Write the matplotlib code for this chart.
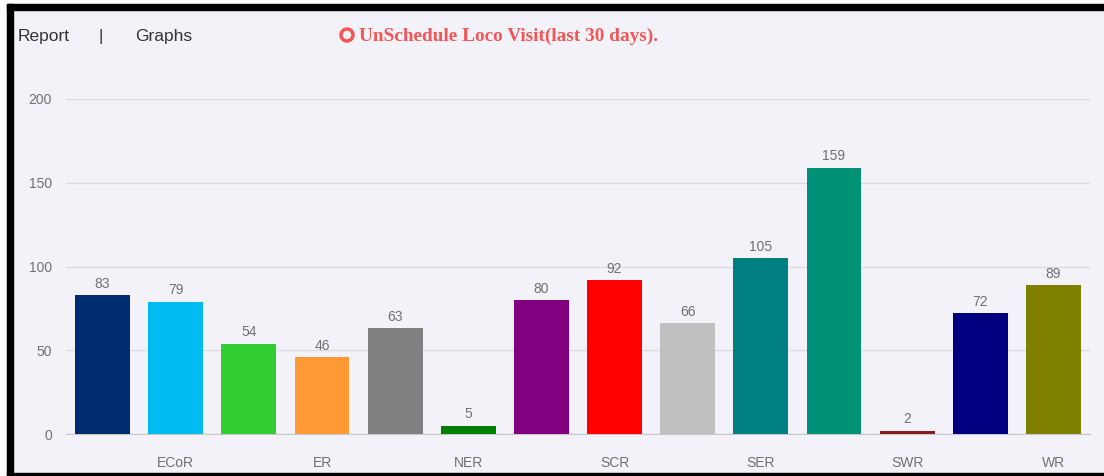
import matplotlib
matplotlib.use("Agg")
import matplotlib.pyplot as plt
import matplotlib.patches as mpatches
import numpy as np

plt.rcParams["font.family"] = ["Liberation Sans", "DejaVu Sans"]

# zones (only every second label is shown on the axis)
zones  = ["CR", "ECoR", "ECR", "ER", "NCR", "NER", "NR", "SCR",
          "SECR", "SER", "SR", "SWR", "WCR", "WR"]
visits = [83, 79, 54, 46, 63, 5, 80, 92, 66, 105, 159, 2, 72, 89]
colors = ["#002b6e", "#00bbf2", "#32cd32", "#ff9933", "#808080", "#008000",
          "#800080", "#ff0000", "#c0c0c0", "#008080", "#009177", "#8b1a1a",
          "#000080", "#808000"]
y_ticks = [0, 50, 100, 150, 200]

W, H = 1104, 476
BG = "#f3f2f8"
fig = plt.figure(figsize=(W / 100, H / 100), dpi=100)
fig.patch.set_facecolor("white")

# page background + black frame (top, left, bottom)
fig.patches.append(mpatches.Rectangle((7 / W, 0), 1 - 7 / W, 1 - 4 / H,
                   transform=fig.transFigure, color=BG, zorder=-2))
fig.patches.append(mpatches.Rectangle((7 / W, 1 - 10 / H), 1 - 7 / W, 6 / H,
                   transform=fig.transFigure, color="black", zorder=-1))
fig.patches.append(mpatches.Rectangle((7 / W, 0), 6 / W, 1 - 4 / H,
                   transform=fig.transFigure, color="black", zorder=-1))
fig.patches.append(mpatches.Rectangle((7 / W, 0), 1 - 7 / W, 3 / H,
                   transform=fig.transFigure, color="black", zorder=-1))

# header
fig.text(18 / W, 1 - 36 / H, "Report", fontsize=12.5, color="#333333", va="center")
fig.text(101 / W, 1 - 36 / H, "|", fontsize=12.5, color="#333333", va="center", ha="center")
fig.text(135 / W, 1 - 36 / H, "Graphs", fontsize=12.5, color="#333333", va="center")
fig.patches.append(mpatches.Ellipse((347 / W, 1 - 35 / H), 12 / W, 12 / H,
                   transform=fig.transFigure, fill=False, edgecolor="#f55555",
                   linewidth=2.5))
fig.text(359 / W, 1 - 36 / H, "UnSchedule Loco Visit(last 30 days).",
         fontsize=13.9, fontweight="bold", color="#f55555", va="center",
         family=["Liberation Serif", "DejaVu Serif"])

ax = fig.add_axes([66 / W, 1 - 434 / H, (1090 - 66) / W, (434 - 99) / H])
ax.set_facecolor(BG)
x = np.arange(len(zones))
bars = ax.bar(x, visits, width=0.75, color=colors, zorder=3)
for b, v in zip(bars, visits):
    ax.text(b.get_x() + b.get_width() / 2, v + 2.5, str(v), ha="center",
            va="bottom", fontsize=10, color="#707070", zorder=4)

ax.set_xlim(-0.5, len(zones) - 0.5)
ax.set_ylim(0, 200)
ax.set_yticks(y_ticks)
ax.set_xticks(x[1::2])
ax.set_xticklabels(zones[1::2])
ax.tick_params(axis="both", length=0, labelsize=10, labelcolor="#707070")
ax.tick_params(axis="x", pad=16)
ax.tick_params(axis="y", pad=10)
ax.grid(axis="y", color="#dcdbe0", linewidth=1, zorder=0)
for s in ["top", "right", "left"]:
    ax.spines[s].set_visible(False)
ax.spines["bottom"].set_color("#c8c8cc")

fig.savefig("out.png", dpi=100, facecolor=fig.get_facecolor())
